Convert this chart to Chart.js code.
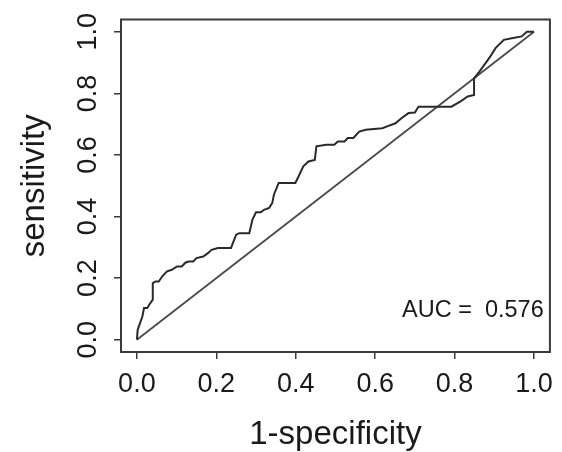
<!DOCTYPE html>
<html>
<head>
<meta charset="utf-8">
<script src="https://cdn.jsdelivr.net/npm/chart.js@4.4.1/dist/chart.umd.min.js"></script>
<style>
  html, body { margin: 0; padding: 0; background: #ffffff; }
  #wrap { width: 562px; height: 452px; }
  #c { filter: blur(0.4px); }
</style>
</head>
<body>
<div id="wrap"><canvas id="c" width="562" height="452"></canvas></div>
<script>
// ROC curve: false positive rate (1-specificity) and true positive rate (sensitivity)
const fpr = [0, 0.002, 0.014, 0.018, 0.026, 0.032, 0.04, 0.04, 0.047, 0.055, 0.064, 0.076, 0.088, 0.101, 0.113, 0.122, 0.13, 0.142, 0.15, 0.167, 0.179, 0.188, 0.204, 0.229, 0.237, 0.25, 0.258, 0.283, 0.291, 0.3, 0.312, 0.32, 0.333, 0.341, 0.345, 0.357, 0.399, 0.407, 0.419, 0.432, 0.448, 0.452, 0.477, 0.497, 0.506, 0.523, 0.531, 0.545, 0.56, 0.576, 0.618, 0.63, 0.651, 0.667, 0.684, 0.7, 0.709, 0.742, 0.77, 0.792, 0.816, 0.833, 0.849, 0.849, 0.862, 0.878, 0.89, 0.903, 0.924, 0.944, 0.969, 0.982, 1.0];
const tpr = [0, 0.032, 0.076, 0.103, 0.103, 0.115, 0.13, 0.184, 0.189, 0.189, 0.206, 0.222, 0.227, 0.238, 0.238, 0.25, 0.254, 0.254, 0.265, 0.27, 0.281, 0.292, 0.298, 0.298, 0.298, 0.341, 0.346, 0.346, 0.39, 0.414, 0.414, 0.422, 0.428, 0.444, 0.471, 0.509, 0.509, 0.53, 0.563, 0.579, 0.584, 0.628, 0.633, 0.633, 0.644, 0.644, 0.655, 0.655, 0.676, 0.682, 0.687, 0.693, 0.703, 0.72, 0.736, 0.738, 0.757, 0.757, 0.757, 0.757, 0.775, 0.79, 0.795, 0.849, 0.87, 0.898, 0.92, 0.947, 0.974, 0.979, 0.985, 1.0, 1.0];
// chance diagonal
const diagX = [0, 1];
const diagY = [0, 1];
// axes
const tickValues = [0, 0.2, 0.4, 0.6, 0.8, 1.0];
const tickLabels = ['0.0', '0.2', '0.4', '0.6', '0.8', '1.0'];
const xTitle = '1-specificity';
const yTitle = 'sensitivity';
const aucText = 'AUC =  0.576';
const aucPos = [0.846, 0.095];

const FONT = '"Liberation Sans", Arial, Helvetica, sans-serif';
const TEXT = '#1a1a1a';
const AXIS = '#3a3a3a';

const boxPlugin = {
  id: 'rbox',
  afterDraw(chart) {
    const { ctx, chartArea: a, scales } = chart;
    ctx.save();
    ctx.strokeStyle = AXIS;
    ctx.lineWidth = 2;
    ctx.strokeRect(a.left, a.top, a.right - a.left, a.bottom - a.top);
    // rotated y tick labels (R style, las = 0)
    ctx.fillStyle = TEXT;
    ctx.font = '27px ' + FONT;
    ctx.textAlign = 'center';
    ctx.textBaseline = 'middle';
    tickValues.forEach((v, i) => {
      const py = scales.y.getPixelForValue(v);
      ctx.save();
      ctx.translate(89, py);
      ctx.rotate(-Math.PI / 2);
      ctx.fillText(tickLabels[i], 0, 0);
      ctx.restore();
    });
    // AUC annotation
    ctx.font = '23.5px ' + FONT;
    ctx.fillText(aucText, scales.x.getPixelForValue(aucPos[0]), scales.y.getPixelForValue(aucPos[1]));
    ctx.restore();
  }
};

new Chart(document.getElementById('c'), {
  type: 'line',
  data: {
    datasets: [
      {
        data: fpr.map((x, i) => ({ x: x, y: tpr[i] })),
        borderColor: '#2a2a2a',
        borderWidth: 2,
        pointRadius: 0,
        tension: 0,
        fill: false
      },
      {
        data: diagX.map((x, i) => ({ x: x, y: diagY[i] })),
        borderColor: '#4a4a4a',
        borderWidth: 1.8,
        pointRadius: 0,
        tension: 0,
        fill: false
      }
    ]
  },
  options: {
    responsive: false,
    animation: false,
    events: [],
    layout: { padding: { top: 19.5, right: 5.5, left: 0, bottom: 0 } },
    plugins: { legend: { display: false }, tooltip: { enabled: false }, title: { display: false } },
    scales: {
      x: {
        type: 'linear',
        min: -0.04, max: 1.04,
        afterBuildTicks(s) { s.ticks = tickValues.map(v => ({ value: v })); },
        afterFit(s) { s.height = 100; },
        border: { display: false },
        grid: { drawOnChartArea: false, drawTicks: true, tickLength: 7, color: AXIS, lineWidth: 1.5 },
        ticks: {
          color: TEXT, padding: 9, maxRotation: 0, autoSkip: false,
          font: { family: FONT, size: 27 },
          callback(v) { const i = tickValues.indexOf(v); return i >= 0 ? tickLabels[i] : ''; }
        },
        title: { display: true, text: xTitle, color: TEXT, font: { family: FONT, size: 33 }, padding: { top: 0, bottom: -3 } }
      },
      y: {
        type: 'linear',
        min: -0.04, max: 1.04,
        afterBuildTicks(s) { s.ticks = tickValues.map(v => ({ value: v })); },
        afterFit(s) { s.width = 121; },
        border: { display: false },
        grid: { drawOnChartArea: false, drawTicks: true, tickLength: 7, color: AXIS, lineWidth: 1.5 },
        ticks: { display: false },
        title: { display: true, text: yTitle, color: TEXT, font: { family: FONT, size: 33 }, padding: { top: 15, bottom: 0 } }
      }
    }
  },
  plugins: [boxPlugin]
});
</script>
</body>
</html>
